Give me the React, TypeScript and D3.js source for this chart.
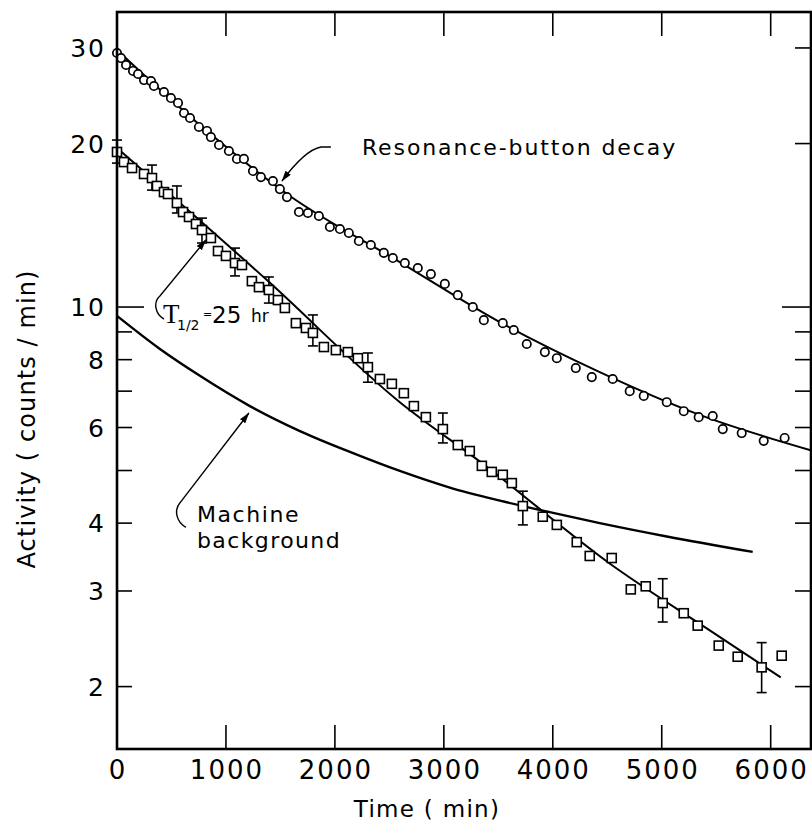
import React from "react";
import * as d3 from "d3";

// ---------- data ----------
const resonanceTime = [0, 37, 83, 147, 193, 248, 312, 339, 431, 495, 560, 615, 670, 752, 826, 862, 936, 1027, 1101, 1165, 1248, 1321, 1431, 1495, 1560, 1670, 1752, 1853, 1954, 2046, 2128, 2220, 2330, 2449, 2532, 2642, 2761, 2881, 3009, 3128, 3266, 3367, 3541, 3642, 3761, 3927, 4037, 4211, 4358, 4550, 4706, 4835, 5046, 5202, 5339, 5468, 5560, 5734, 5936, 6128];
const resonanceActivity = [29.36, 28.74, 27.91, 27.21, 26.86, 26.18, 26.07, 25.53, 24.89, 24.26, 23.76, 22.77, 22.29, 21.46, 21.1, 20.56, 19.88, 19.38, 18.74, 18.74, 17.8, 17.35, 17.06, 16.49, 15.94, 14.96, 14.9, 14.71, 14.04, 13.92, 13.69, 13.23, 13.01, 12.58, 12.31, 12.05, 11.8, 11.5, 11.03, 10.52, 10.0, 9.46, 9.34, 9.07, 8.55, 8.26, 8.05, 7.72, 7.43, 7.37, 7.0, 6.86, 6.68, 6.43, 6.27, 6.3, 5.96, 5.86, 5.67, 5.74];

const sampleTime = [0, 64, 138, 248, 321, 367, 431, 468, 550, 606, 661, 725, 780, 862, 927, 1000, 1083, 1147, 1238, 1303, 1394, 1477, 1541, 1642, 1734, 1798, 1899, 2009, 2119, 2211, 2303, 2413, 2523, 2633, 2725, 2835, 2991, 3128, 3238, 3349, 3440, 3541, 3624, 3725, 3908, 4037, 4220, 4339, 4541, 4716, 4853, 5009, 5202, 5330, 5523, 5697, 5917, 6101];
const sampleActivity = [19.3, 18.49, 18.03, 17.58, 17.28, 16.71, 16.28, 16.15, 15.54, 14.96, 14.65, 14.22, 13.86, 13.4, 12.68, 12.42, 12.05, 11.95, 11.16, 10.88, 10.75, 10.3, 9.96, 9.34, 9.15, 8.96, 8.44, 8.33, 8.26, 8.05, 7.75, 7.37, 7.22, 6.94, 6.57, 6.27, 5.96, 5.57, 5.43, 5.1, 4.97, 4.91, 4.74, 4.3, 4.11, 3.97, 3.69, 3.48, 3.45, 3.02, 3.06, 2.85, 2.73, 2.59, 2.38, 2.27, 2.17, 2.28];

const errTime = [0, 321, 550, 780, 1083, 1394, 1798, 2303, 2991, 3725, 5009, 5917];
const errLow = [18.41, 16.42, 14.9, 13.12, 11.41, 10.17, 8.48, 7.27, 5.62, 3.97, 2.63, 1.95];
const errHigh = [20.3, 18.26, 16.71, 14.58, 12.84, 11.36, 9.67, 8.23, 6.38, 4.58, 3.16, 2.41];

const resonanceFitTime = [0, 761, 1587, 2596, 3514, 4431, 5349, 6367];
const resonanceFitActivity = [29.74, 21.63, 16.01, 12.1, 9.38, 7.59, 6.33, 5.45];

const halfLifeFitTime = [0, 1376, 2596, 3349, 4541, 5413, 6092];
const halfLifeFitActivity = [19.63, 11.21, 6.68, 5.16, 3.35, 2.56, 2.08];

const backgroundTime = [0, 394, 761, 1220, 1679, 2138, 2596, 3055, 3514, 3972, 4431, 5046, 5835];
const backgroundActivity = [9.63, 8.37, 7.47, 6.57, 5.91, 5.41, 4.99, 4.65, 4.4, 4.19, 4.0, 3.78, 3.54];

const xTickValues = [0, 1000, 2000, 3000, 4000, 5000, 6000];
const xTickLabels = ["0", "1000", "2000", "3000", "4000", "5000", "6000"];
const yLabelValues = [2, 3, 4, 6, 8, 10, 20, 30];
const yLabelTexts = ["2", "3", "4", "6", "8", "10", "20", "30"];
const yLeftMinorTicks = [2, 3, 4, 5, 6, 7, 8, 9];
const yRightMinorTicks = [2, 3, 4, 5, 6, 7, 8, 9, 20, 30];
const yMajorTick = 10;

// annotation anchors (data space)
const resArrowT = [1963, 1872, 1725, 1514];
const resArrowV = [19.71, 19.71, 19.46, 17.06];
const halfArrowT = [431, 349, 330, 394, 816];
const halfArrowV = [9.5, 9.71, 10.21, 10.48, 13.29];
const bgArrowT = [633, 541, 523, 578, 1211];
const bgArrowV = [3.93, 4.02, 4.23, 4.36, 6.38];

export default function App() {
  const W = 812;
  const H = 824;
  const left = 117, right = 811, top = 12, bottom = 749;
  const x = d3.scaleLinear().domain([0, 6370]).range([left, right]);
  const y = d3.scaleLog().domain([1.535, 34.94]).range([bottom, top]);
  const font = "'DejaVu Sans', sans-serif";

  const curve = (ts: number[], vs: number[]) =>
    d3
      .line<number>()
      .x((_, i) => x(ts[i]))
      .y((_, i) => y(vs[i]))
      .curve(d3.curveMonotoneX)(ts) as string;

  const P = (ts: number[], vs: number[], i: number) => `${x(ts[i])},${y(vs[i])}`;
  const resArrow = `M${P(resArrowT, resArrowV, 0)} L${P(resArrowT, resArrowV, 1)} Q${P(resArrowT, resArrowV, 2)} ${P(resArrowT, resArrowV, 3)}`;
  const halfArrow = `M${P(halfArrowT, halfArrowV, 0)} C${P(halfArrowT, halfArrowV, 1)} ${P(halfArrowT, halfArrowV, 2)} ${P(halfArrowT, halfArrowV, 3)} L${P(halfArrowT, halfArrowV, 4)}`;
  const bgArrow = `M${P(bgArrowT, bgArrowV, 0)} C${P(bgArrowT, bgArrowV, 1)} ${P(bgArrowT, bgArrowV, 2)} ${P(bgArrowT, bgArrowV, 3)} L${P(bgArrowT, bgArrowV, 4)}`;

  const sq = 9;
  const cap = 5;

  const hx = x(459);
  const hy = y(9.34);

  return (
    <svg
      width={W}
      height={H}
      style={{ position: "absolute", left: 0, top: 0, background: "#fff" }}
    >
      <defs>
        <marker
          id="ah"
          viewBox="0 0 10 6"
          refX="9.5"
          refY="3"
          markerWidth="11"
          markerHeight="7"
          markerUnits="userSpaceOnUse"
          orient="auto"
        >
          <path d="M0,0 L10,3 L0,6 z" fill="#000" />
        </marker>
      </defs>
      <rect width={W} height={H} fill="#fff" />

      {/* fit curves */}
      <path d={curve(resonanceFitTime, resonanceFitActivity)} fill="none" stroke="#000" strokeWidth={2} />
      <path d={curve(halfLifeFitTime, halfLifeFitActivity)} fill="none" stroke="#000" strokeWidth={2} />
      <path d={curve(backgroundTime, backgroundActivity)} fill="none" stroke="#000" strokeWidth={2.4} />

      {/* error bars */}
      {errTime.map((t, i) => (
        <g key={"e" + i} stroke="#000" strokeWidth={1.6}>
          <line x1={x(t)} x2={x(t)} y1={y(errLow[i])} y2={y(errHigh[i])} />
          <line x1={x(t) - cap} x2={x(t) + cap} y1={y(errLow[i])} y2={y(errLow[i])} />
          <line x1={x(t) - cap} x2={x(t) + cap} y1={y(errHigh[i])} y2={y(errHigh[i])} />
        </g>
      ))}

      {/* resonance circles */}
      {resonanceTime.map((t, i) => (
        <circle key={"c" + i} cx={x(t)} cy={y(resonanceActivity[i])} r={4.2} fill="#fff" stroke="#000" strokeWidth={1.7} />
      ))}

      {/* squares */}
      {sampleTime.map((t, i) => (
        <rect
          key={"s" + i}
          x={x(t) - sq / 2}
          y={y(sampleActivity[i]) - sq / 2}
          width={sq}
          height={sq}
          fill="#fff"
          stroke="#000"
          strokeWidth={1.6}
        />
      ))}

      {/* frame */}
      <rect x={left} y={top} width={right - left} height={bottom - top} fill="none" stroke="#000" strokeWidth={2.6} />

      {/* x ticks top & bottom */}
      {xTickValues.filter((v) => v > 0).map((v) => (
        <g key={"xt" + v} stroke="#000" strokeWidth={1.6}>
          <line x1={x(v)} x2={x(v)} y1={bottom} y2={bottom - 24} />
          <line x1={x(v)} x2={x(v)} y1={top} y2={top + 24} />
        </g>
      ))}
      {/* y ticks */}
      {yLeftMinorTicks.map((v) => (
        <line key={"yl" + v} x1={left} x2={left + 15} y1={y(v)} y2={y(v)} stroke="#000" strokeWidth={1.6} />
      ))}
      {yRightMinorTicks.map((v) => (
        <line key={"yr" + v} x1={right} x2={right - 16} y1={y(v)} y2={y(v)} stroke="#000" strokeWidth={1.6} />
      ))}
      <line x1={left} x2={left + 27} y1={y(yMajorTick)} y2={y(yMajorTick)} stroke="#000" strokeWidth={1.6} />
      <line x1={right} x2={right - 29} y1={y(yMajorTick)} y2={y(yMajorTick)} stroke="#000" strokeWidth={1.6} />

      {/* tick labels */}
      {xTickValues.map((v, i) => (
        <text
          key={"xl" + v}
          x={x(v) + 1}
          y={779}
          textAnchor="middle"
          fontFamily={font}
          fontSize={26}
          letterSpacing={2}
        >
          {xTickLabels[i]}
        </text>
      ))}
      {yLabelValues.map((v, i) => (
        <text
          key={"yll" + v}
          x={106}
          y={y(v)}
          dy="0.36em"
          textAnchor="end"
          fontFamily={font}
          fontSize={25}
          letterSpacing={2}
        >
          {yLabelTexts[i]}
        </text>
      ))}

      {/* axis titles */}
      <text x={427} y={817} textAnchor="middle" fontFamily={font} fontSize={23} letterSpacing={1.3}>
        Time ( min)
      </text>
      <text
        transform={`translate(35,419) rotate(-90)`}
        textAnchor="middle"
        fontFamily={font}
        fontSize={24}
        letterSpacing={1.1}
      >
        Activity ( counts / min)
      </text>

      {/* annotations */}
      <path d={resArrow} fill="none" stroke="#000" strokeWidth={1.4} markerEnd="url(#ah)" />
      <path d={halfArrow} fill="none" stroke="#000" strokeWidth={1.4} markerEnd="url(#ah)" />
      <path d={bgArrow} fill="none" stroke="#000" strokeWidth={1.4} markerEnd="url(#ah)" />

      <text x={x(2248)} y={y(19.05)} fontFamily={font} fontSize={22} letterSpacing={1.9}>
        Resonance-button decay
      </text>
      <text x={x(734)} y={y(4.02)} fontFamily={font} fontSize={22} letterSpacing={1.6}>
        Machine
      </text>
      <text x={x(734)} y={y(3.6)} fontFamily={font} fontSize={22} letterSpacing={1.4}>
        background
      </text>

      <text x={hx - 4} y={hy} fontFamily="'Liberation Serif', serif" fontSize={27}>
        T
      </text>
      <text x={hx + 10} y={hy + 7} fontFamily={font} fontSize={14}>
        1/2
      </text>
      <text x={hx + 36} y={hy - 5} fontFamily={font} fontSize={11}>
        =
      </text>
      <text x={hx + 45} y={hy} fontFamily={font} fontSize={23}>
        25
      </text>
      <text x={hx + 84} y={hy - 1} fontFamily={font} fontSize={17}>
        hr
      </text>
    </svg>
  );
}
